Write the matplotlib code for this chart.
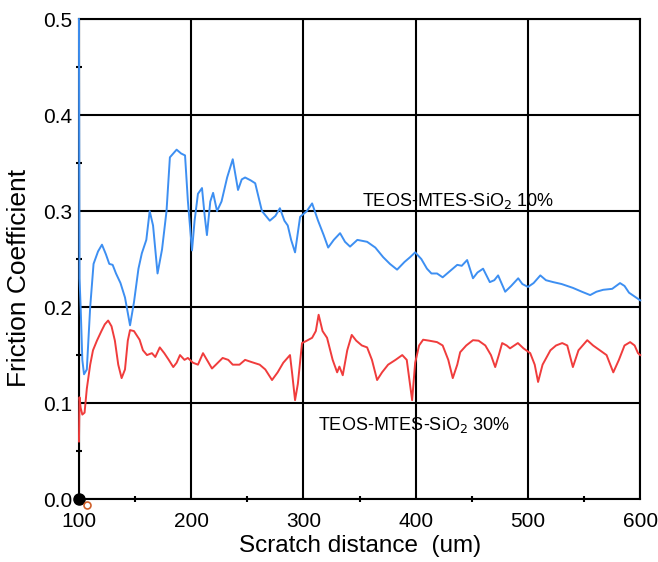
import numpy as np
import matplotlib.pyplot as plt
from matplotlib.ticker import MultipleLocator, FormatStrFormatter

plt.rcParams['font.family'] = ['Liberation Sans', 'DejaVu Sans']

# 10% coating (blue curve)
blue_x = [100, 100.5, 101.5, 103, 104.5, 107, 110, 113, 117, 120.5,
          124, 127, 130, 133, 137, 141, 145.5, 149, 153, 156,
          160, 163, 166, 170, 174, 178, 181, 184, 187, 191,
          194.5, 197, 200.7, 203, 206, 209.6, 212, 214, 217, 219.5,
          223, 227, 232, 237, 241.7, 245, 248, 253, 257, 263,
          270, 275, 279, 283, 286, 289, 292.5, 297, 303, 307.7,
          313, 318, 322, 327, 332.6, 337, 341.5, 348, 356.7, 364,
          371, 377, 383.4, 390, 395, 399.5, 405, 410, 414, 419,
          424, 430, 437, 441, 445.8, 451, 455, 460, 466, 470,
          473.4, 479.7, 485, 491.3, 495, 500, 505, 511, 516, 522.5,
          530, 540, 548, 555.4, 561, 567, 575, 582, 586, 590,
          595, 600]
blue_y = [0.5, 0.23, 0.2, 0.145, 0.13, 0.135, 0.2, 0.245, 0.258, 0.265,
          0.255, 0.245, 0.244, 0.235, 0.225, 0.21, 0.181, 0.205, 0.24, 0.256,
          0.27, 0.30, 0.285, 0.235, 0.26, 0.30, 0.356, 0.36, 0.364, 0.36,
          0.358, 0.311, 0.259, 0.29, 0.318, 0.324, 0.295, 0.275, 0.31, 0.319,
          0.30, 0.31, 0.335, 0.354, 0.322, 0.333, 0.335, 0.332, 0.329, 0.30,
          0.29, 0.295, 0.303, 0.29, 0.285, 0.27, 0.257, 0.294, 0.30, 0.308,
          0.29, 0.275, 0.262, 0.27, 0.277, 0.268, 0.263, 0.27, 0.268, 0.262,
          0.252, 0.245, 0.239, 0.247, 0.252, 0.257, 0.25, 0.24, 0.235, 0.235,
          0.231, 0.237, 0.244, 0.243, 0.249, 0.23, 0.236, 0.24, 0.226, 0.228,
          0.233, 0.216, 0.222, 0.23, 0.224, 0.221, 0.225, 0.233, 0.228, 0.226,
          0.224, 0.22, 0.216, 0.2125, 0.216, 0.218, 0.219, 0.225, 0.222, 0.215,
          0.211, 0.207]

# 30% coating (red curve)
red_x = [100, 100.5, 101.5, 103, 105, 107, 110, 112.5, 116, 120,
         123, 126, 129, 132, 135, 138, 141, 143.5, 145.5, 149,
         154, 157, 160.6, 165, 168, 172, 176, 180, 184, 187,
         190, 194, 197, 201.6, 206, 210.5, 214, 218.5, 222, 228,
         233, 237, 243, 248, 253, 261, 266, 272, 277, 282,
         288, 290, 292.5, 295, 298.7, 303, 307.7, 311, 313.5, 317,
         321, 326, 330, 332, 335, 339, 343, 347, 352, 356.7,
         361, 365.6, 370, 375.4, 382, 388, 392, 396.8, 399.5, 403,
         406.6, 412, 419, 424, 429, 433, 437, 439.6, 445, 451,
         456, 462, 467, 470.8, 474, 477, 481, 484, 491, 496,
         502, 506, 509, 513, 520, 525, 530.5, 535, 540, 545,
         552.8, 558, 564, 570, 576, 581, 586, 591, 595, 598,
         600]
red_y = [0.06, 0.106, 0.095, 0.088, 0.09, 0.115, 0.14, 0.155, 0.165, 0.175,
         0.182, 0.186, 0.18, 0.165, 0.14, 0.126, 0.135, 0.165, 0.176, 0.175,
         0.166, 0.155, 0.15, 0.152, 0.148, 0.158, 0.152, 0.145, 0.1375, 0.142,
         0.15, 0.145, 0.147, 0.142, 0.14, 0.152, 0.145, 0.136, 0.14, 0.147,
         0.145, 0.14, 0.14, 0.145, 0.143, 0.14, 0.135, 0.124, 0.132, 0.142,
         0.15, 0.13, 0.103, 0.12, 0.1625, 0.165, 0.168, 0.175, 0.192, 0.175,
         0.168, 0.145, 0.132, 0.138, 0.129, 0.155, 0.171, 0.165, 0.16, 0.158,
         0.145, 0.124, 0.132, 0.14, 0.145, 0.15, 0.145, 0.103, 0.142, 0.16,
         0.166, 0.165, 0.1635, 0.16, 0.145, 0.126, 0.14, 0.153, 0.16, 0.1655,
         0.165, 0.16, 0.15, 0.1375, 0.15, 0.1625, 0.16, 0.157, 0.1625, 0.157,
         0.152, 0.14, 0.122, 0.14, 0.155, 0.16, 0.1625, 0.16, 0.1375, 0.155,
         0.1655, 0.16, 0.155, 0.15, 0.132, 0.145, 0.16, 0.1635, 0.16, 0.152,
         0.15]

fig = plt.figure(figsize=(6.58, 5.62), dpi=100)
ax = fig.add_axes([0.12, 0.112, 0.853, 0.854])

ax.plot(blue_x, blue_y, color='#3d8ff2', lw=1.4, zorder=4, clip_on=False)
ax.plot(red_x, red_y, color='#f03c3c', lw=1.4, zorder=4, clip_on=False)

ax.set_xlim(100, 600)
ax.set_ylim(0, 0.5)
ax.xaxis.set_major_locator(MultipleLocator(100))
ax.xaxis.set_minor_locator(MultipleLocator(50))
ax.yaxis.set_major_locator(MultipleLocator(0.1))
ax.yaxis.set_minor_locator(MultipleLocator(0.05))
ax.yaxis.set_major_formatter(FormatStrFormatter('%.1f'))
ax.grid(True, which='major', color='black', lw=1.5)
ax.set_axisbelow(True)
for s in ax.spines.values():
    s.set_linewidth(1.5)
ax.tick_params(which='major', length=0, labelsize=15)
ax.tick_params(axis='x', which='major', pad=9)
ax.tick_params(axis='y', which='major', pad=5)
ax.tick_params(which='minor', direction='inout', length=5, width=1.5)

# marker at the origin
ax.plot([100], [0], 'o', color='black', ms=8, clip_on=False, zorder=5)
ax.plot([107], [-0.006], 'o', mfc='none', mec='#d0602a', ms=5, mew=1.2,
        clip_on=False, zorder=5)

ax.text(352, 0.311, 'TEOS-MTES-SiO$_2$ 10%', fontsize=13, va='center')
ax.text(313, 0.077, 'TEOS-MTES-SiO$_2$ 30%', fontsize=13, va='center')

ax.set_xlabel('Scratch distance  (um)', fontsize=17.5, labelpad=3)
ax.set_ylabel('Friction Coefficient', fontsize=19, labelpad=10)
ax.yaxis.set_label_coords(-0.085, 0.46)

fig.savefig('out.png', dpi=100)
